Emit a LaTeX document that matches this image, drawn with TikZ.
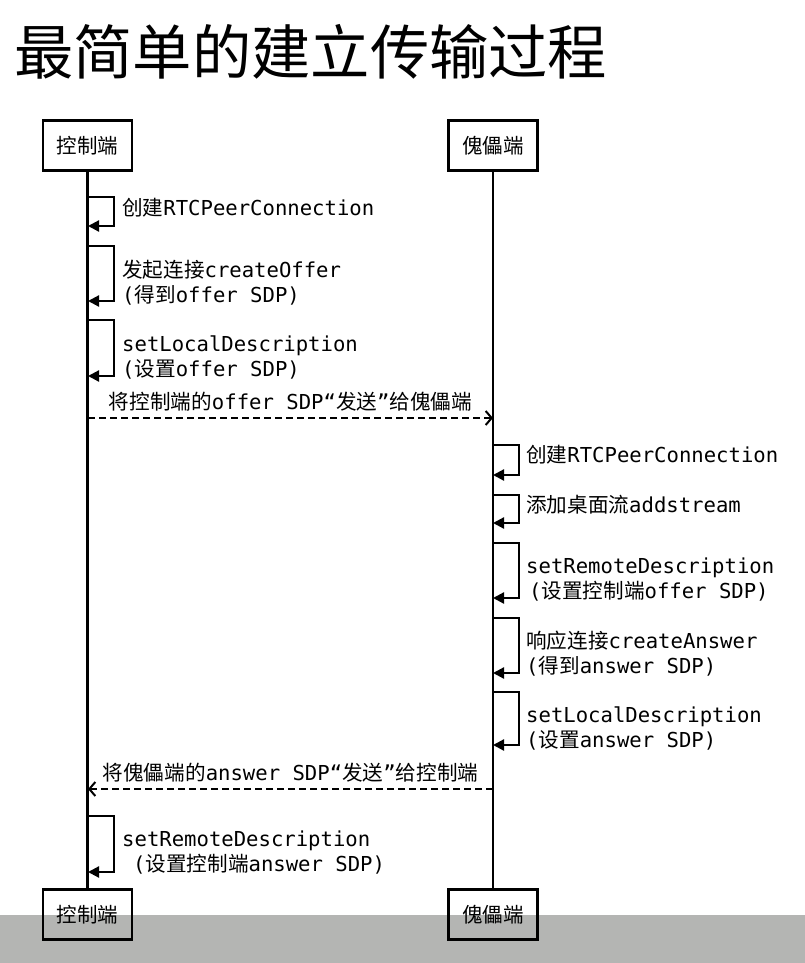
\documentclass[tikz,border=0pt]{standalone}
\usepackage{fontspec}
\setmainfont{DejaVu Sans Mono}
\newfontfamily\cjk{Noto Sans CJK SC}
\usetikzlibrary{arrows.meta}
\newcommand\zh[1]{{\cjk #1}}
\definecolor{bandgray}{RGB}{180,181,179}

\tikzset{
  actor/.style={draw, line width=2.8pt, minimum width=89pt, minimum height=50pt,
    inner sep=0pt, font=\cjk\fontsize{20.5}{24}\selectfont},
  life/.style={line width=2.6pt},
  selfmsg/.style={line width=2.2pt, -{Triangle[length=11pt,width=11pt]}},
  sendmsg/.style={line width=2pt, dash pattern=on 7pt off 4pt,
    -{Straight Barb[length=6pt,width=14pt,line width=2pt]}},
  msgtext/.style={anchor=west, inner sep=0pt, align=left,
    font=\fontsize{20.6}{25}\selectfont},
  msglabel/.style={inner sep=0pt, font=\fontsize{20.6}{25}\selectfont}
}

\begin{document}
\begin{tikzpicture}[x=1pt,y=-1pt]
\useasboundingbox (0,0) rectangle (805,963);
\fill[white] (0,0) rectangle (805,963);
\fill[bandgray] (0,915) rectangle (805,963);

% title
\node[anchor=west, inner sep=0pt, font=\cjk\fontsize{59.3}{62}\selectfont] (title) at (14,52) {最简单的建立传输过程};

% participants
\node[actor] (ctlTop) at (87.5,145.5) {控制端};
\node[actor] (pupTop) at (493,145.5) {傀儡端};
\node[actor] (ctlBot) at (87.5,914.5) {控制端};
\node[actor] (pupBot) at (493,914.5) {傀儡端};

% lifelines
\draw[life] (ctlTop.south) -- (ctlBot.north);
\draw[life] (pupTop.south) -- (pupBot.north);

% controller: self messages
\coordinate (c1a) at (88,197); \coordinate (c1b) at (88,226);
\coordinate (c2a) at (88,246); \coordinate (c2b) at (88,301);
\coordinate (c3a) at (88,320); \coordinate (c3b) at (88,376);
\draw[selfmsg] (c1a) -- ++(26,0) |- (c1b);
\draw[selfmsg] (c2a) -- ++(26,0) |- (c2b);
\draw[selfmsg] (c3a) -- ++(26,0) |- (c3b);
\node[msgtext] (t1) at (122,208) {\zh{创建}RTCPeerConnection};
\node[msgtext] (t2) at (122,282.5) {\zh{发起连接}createOffer\\(\zh{得到}offer SDP)};
\node[msgtext] (t3) at (122,357) {setLocalDescription\\(\zh{设置}offer SDP)};

% offer sent to the puppet side
\coordinate (o1) at (88,418); \coordinate (o2) at (493,418);
\draw[sendmsg] (o1) -- node[msglabel, yshift=16pt] (offerlbl)
  {\zh{将控制端的}offer SDP“\zh{发送}”\zh{给傀儡端}} (o2);

% puppet: self messages
\coordinate (p1a) at (493,445); \coordinate (p1b) at (493,475);
\coordinate (p2a) at (493,495); \coordinate (p2b) at (493,523);
\coordinate (p3a) at (493,543); \coordinate (p3b) at (493,598);
\coordinate (p4a) at (493,618); \coordinate (p4b) at (493,673);
\coordinate (p5a) at (493,692); \coordinate (p5b) at (493,745);
\draw[selfmsg] (p1a) -- ++(26,0) |- (p1b);
\draw[selfmsg] (p2a) -- ++(26,0) |- (p2b);
\draw[selfmsg] (p3a) -- ++(26,0) |- (p3b);
\draw[selfmsg] (p4a) -- ++(26,0) |- (p4b);
\draw[selfmsg] (p5a) -- ++(26,0) |- (p5b);
\node[msgtext] (u1) at (526,455) {\zh{创建}RTCPeerConnection};
\node[msgtext] (u2) at (526,505) {\zh{添加桌面流}addstream};
\node[msgtext] (u3) at (526,580) {setRemoteDescription\\\hspace*{3pt}(\zh{设置控制端}offer SDP)};
\node[msgtext] (u4) at (526,653.5) {\zh{响应连接}createAnswer\\(\zh{得到}answer SDP)};
\node[msgtext] (u5) at (526,728.5) {setLocalDescription\\(\zh{设置}answer SDP)};

% answer sent back to the controller
\coordinate (a1) at (493,789); \coordinate (a2) at (88,789);
\draw[sendmsg] (a1) -- node[msglabel, yshift=16pt] (answerlbl)
  {\zh{将傀儡端的}answer SDP“\zh{发送}”\zh{给控制端}} (a2);

% controller: final self message
\coordinate (c4a) at (88,816); \coordinate (c4b) at (88,872);
\draw[selfmsg] (c4a) -- ++(26,0) |- (c4b);
\node[msgtext] (t4) at (122,852.5) {setRemoteDescription\\\hspace*{11pt}(\zh{设置控制端}answer SDP)};
\end{tikzpicture}
\end{document}
